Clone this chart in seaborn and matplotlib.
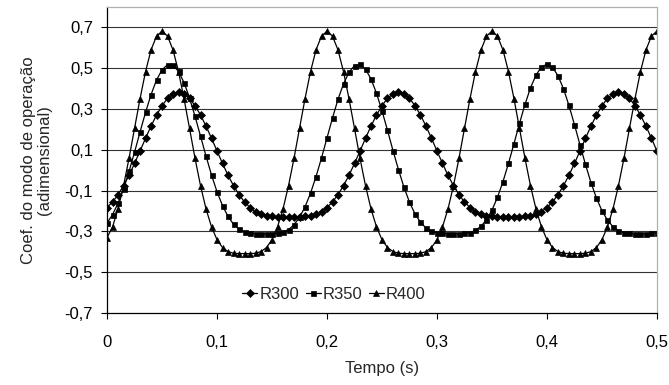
import matplotlib
matplotlib.use("Agg")
import matplotlib.pyplot as plt
import seaborn as sns
import pandas as pd

tempo = [round(0.005 * i, 3) for i in range(101)]

r300 = [
    -0.183, -0.156, -0.120, -0.076, -0.025, 0.033, 0.094, 0.156, 0.216, 0.270,
    0.316, 0.352, 0.374, 0.381, 0.374, 0.352, 0.316, 0.270, 0.216, 0.156,
    0.094, 0.033, -0.025, -0.076, -0.120, -0.156, -0.183, -0.203, -0.216, -0.223,
    -0.227, -0.229, -0.229, -0.229, -0.229, -0.229, -0.227, -0.223, -0.216, -0.203,
    -0.183, -0.156, -0.120, -0.076, -0.025, 0.033, 0.094, 0.156, 0.216, 0.270,
    0.316, 0.352, 0.374, 0.381, 0.374, 0.352, 0.316, 0.270, 0.216, 0.156,
    0.094, 0.033, -0.025, -0.076, -0.120, -0.156, -0.183, -0.203, -0.216, -0.223,
    -0.227, -0.229, -0.229, -0.229, -0.229, -0.229, -0.227, -0.223, -0.216, -0.203,
    -0.183, -0.156, -0.120, -0.076, -0.025, 0.033, 0.094, 0.156, 0.216, 0.270,
    0.316, 0.352, 0.374, 0.381, 0.374, 0.352, 0.316, 0.270, 0.216, 0.156,
    0.094,
]

r350 = [
    -0.259, -0.218, -0.162, -0.091, -0.006, 0.088, 0.187, 0.283, 0.370, 0.442,
    0.492, 0.517, 0.514, 0.484, 0.429, 0.354, 0.264, 0.167, 0.069, -0.024,
    -0.106, -0.174, -0.227, -0.265, -0.289, -0.303, -0.309, -0.311, -0.311, -0.311,
    -0.311, -0.309, -0.303, -0.291, -0.268, -0.231, -0.180, -0.113, -0.032, 0.060,
    0.158, 0.256, 0.347, 0.423, 0.480, 0.512, 0.518, 0.495, 0.447, 0.377,
    0.291, 0.195, 0.096, 0.002, -0.084, -0.157, -0.214, -0.256, -0.283, -0.300,
    -0.308, -0.310, -0.311, -0.311, -0.311, -0.310, -0.306, -0.295, -0.275, -0.243,
    -0.196, -0.133, -0.056, 0.033, 0.130, 0.229, 0.322, 0.403, 0.466, 0.506,
    0.519, 0.504, 0.463, 0.399, 0.317, 0.223, 0.124, 0.028, -0.061, -0.137,
    -0.199, -0.245, -0.277, -0.296, -0.306, -0.310, -0.311, -0.311, -0.311, -0.310,
    -0.307,
]

r400 = [
    -0.330, -0.278, -0.190, -0.076, 0.058, 0.205, 0.350, 0.483, 0.589, 0.657,
    0.681, 0.657, 0.589, 0.483, 0.350, 0.205, 0.058, -0.076, -0.190, -0.278,
    -0.341, -0.379, -0.399, -0.407, -0.409, -0.409, -0.409, -0.407, -0.399, -0.379,
    -0.341, -0.278, -0.190, -0.076, 0.058, 0.205, 0.350, 0.483, 0.589, 0.657,
    0.681, 0.657, 0.589, 0.483, 0.350, 0.205, 0.058, -0.076, -0.190, -0.278,
    -0.341, -0.379, -0.399, -0.407, -0.409, -0.409, -0.409, -0.407, -0.399, -0.379,
    -0.341, -0.278, -0.190, -0.076, 0.058, 0.205, 0.350, 0.483, 0.589, 0.657,
    0.681, 0.657, 0.589, 0.483, 0.350, 0.205, 0.058, -0.076, -0.190, -0.278,
    -0.341, -0.379, -0.399, -0.407, -0.409, -0.409, -0.409, -0.407, -0.399, -0.379,
    -0.341, -0.278, -0.190, -0.076, 0.058, 0.205, 0.350, 0.483, 0.589, 0.657,
    0.681,
]

series_names = ["R300", "R350", "R400"]
series_markers = {"R300": "D", "R350": "s", "R400": "^"}
x_ticks = [0, 0.1, 0.2, 0.3, 0.4, 0.5]
x_ticklabels = ["0", "0,1", "0,2", "0,3", "0,4", "0,5"]
y_ticks = [-0.7, -0.5, -0.3, -0.1, 0.1, 0.3, 0.5, 0.7]
y_ticklabels = ["-0,7", "-0,5", "-0,3", "-0,1", "0,1", "0,3", "0,5", "0,7"]

df = pd.DataFrame({
    "Tempo": tempo * 3,
    "Valor": r300 + r350 + r400,
    "Serie": ["R300"] * 101 + ["R350"] * 101 + ["R400"] * 101,
})

sns.set_style("white")
plt.rcParams["font.family"] = ["Liberation Sans", "DejaVu Sans"]

fig = plt.figure(figsize=(6.69, 3.85), dpi=100)
ax = fig.add_axes([0.160, 0.187, 0.822, 0.795])

sizes = {"R300": 3.6, "R350": 3.6, "R400": 4.4}
for name in series_names:
    sub = df[df["Serie"] == name]
    sns.lineplot(data=sub, x="Tempo", y="Valor", ax=ax, color="black",
                 marker=series_markers[name], markersize=sizes[name],
                 markeredgecolor="black", markerfacecolor="black",
                 markeredgewidth=0.5, linewidth=0.9, label=name, legend=False)

ax.set_xlim(0, 0.5)
ax.set_ylim(-0.7, 0.8)
ax.set_xticks(x_ticks)
ax.set_xticklabels(x_ticklabels)
ax.set_yticks(y_ticks)
ax.set_yticklabels(y_ticklabels)
for yv in y_ticks[1:]:
    ax.axhline(yv, color="#333333", linewidth=0.8, zorder=0)

ax.tick_params(axis="both", direction="out", length=4, width=0.8,
               colors="black", labelsize=12, left=True, bottom=True)
ax.tick_params(axis="x", pad=12)
ax.tick_params(axis="y", pad=6)
for side in ["left", "bottom"]:
    ax.spines[side].set_color("black")
    ax.spines[side].set_linewidth(0.9)
for side in ["top", "right"]:
    ax.spines[side].set_color("#b0b0b0")
    ax.spines[side].set_linewidth(0.9)

ax.set_xlabel("Tempo (s)", fontsize=12, labelpad=8)
ax.set_ylabel("Coef. do modo de operação\n(adimensional)", fontsize=12,
              linespacing=1.05)
ax.yaxis.set_label_coords(-0.1, 0.5)

handles, labels = ax.get_legend_handles_labels()
ax.legend(handles, labels, loc="center", bbox_to_anchor=(0.413, 0.06), ncol=3,
          frameon=False, fontsize=12, handlelength=0.9, handletextpad=0.15,
          columnspacing=0.35, borderpad=0.2)

fig.savefig("out.png", dpi=100)
